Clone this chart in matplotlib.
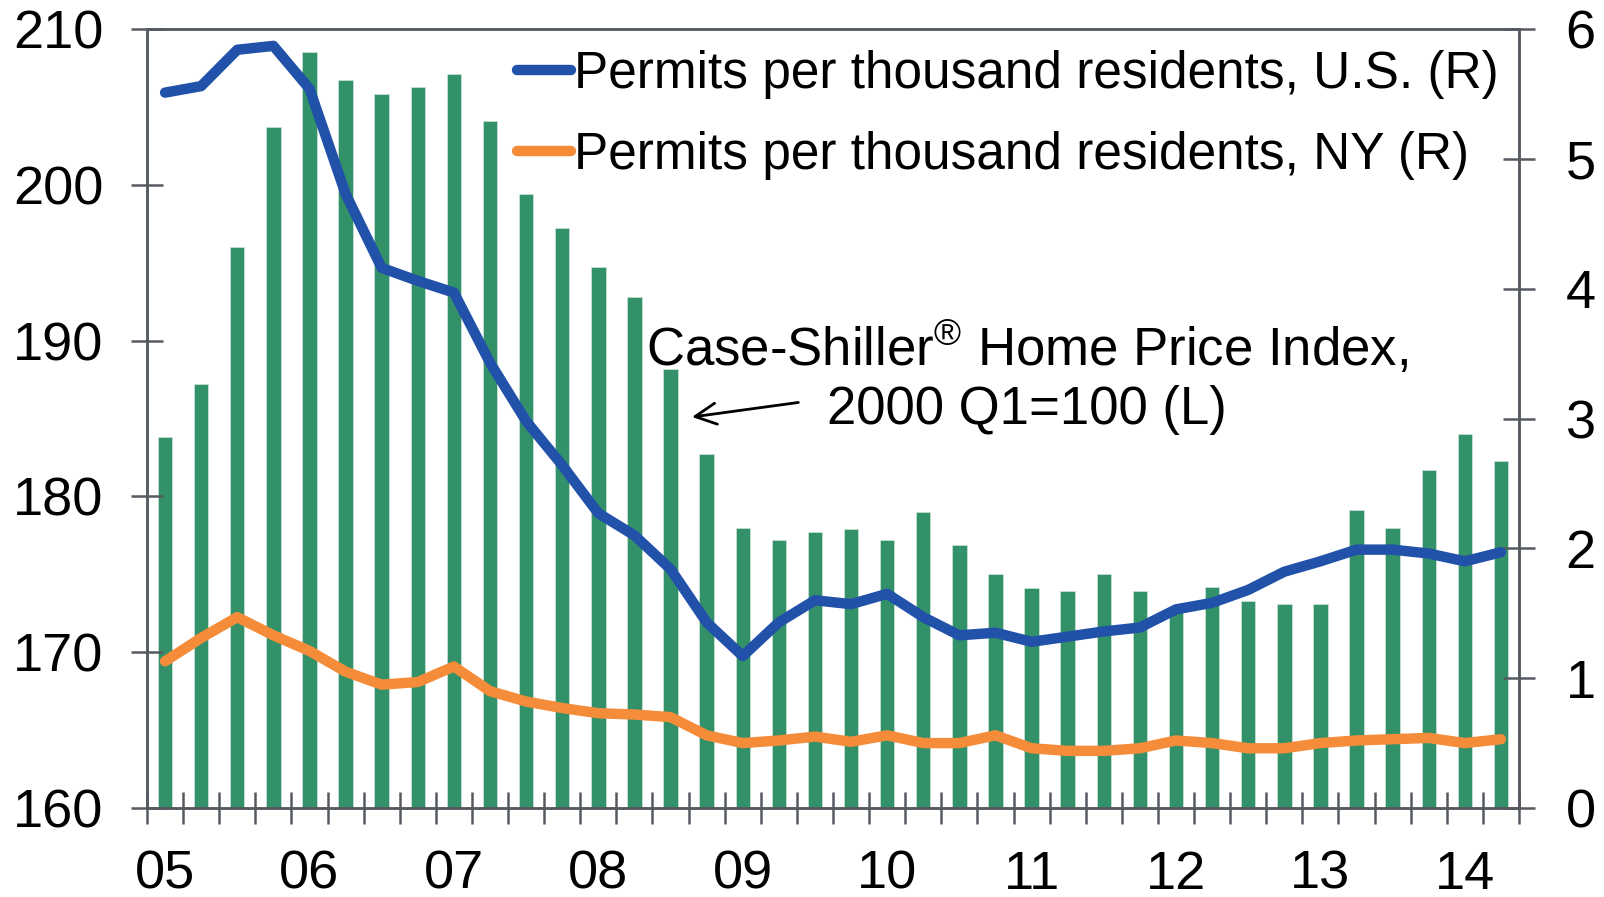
import matplotlib
matplotlib.use("Agg")
import matplotlib.pyplot as plt
import numpy as np

plt.rcParams["font.family"] = ["Liberation Sans", "DejaVu Sans"]
plt.rcParams["mathtext.fontset"] = "custom"
plt.rcParams["mathtext.rm"] = "Liberation Sans"

# quarterly, 2005 Q1 .. 2014 Q2
years = ["05", "06", "07", "08", "09", "10", "11", "12", "13", "14"]

case_shiller = [
    183.8, 187.2, 196.0, 203.7,
    208.5, 206.7, 205.8, 206.3,
    207.1, 204.1, 199.4, 197.2,
    194.7, 192.8, 188.2, 182.7,
    178.0, 177.2, 177.7, 177.9,
    177.2, 179.0, 176.9, 175.0,
    174.1, 173.9, 175.0, 173.9,
    172.6, 174.2, 173.3, 173.1,
    173.1, 179.1, 178.0, 181.7,
    184.0, 182.3,
]

permits_us = [
    5.51, 5.56, 5.84, 5.87,
    5.54, 4.73, 4.16, 4.06,
    3.97, 3.43, 2.98, 2.64,
    2.27, 2.10, 1.84, 1.43,
    1.17, 1.43, 1.60, 1.57,
    1.65, 1.47, 1.33, 1.35,
    1.28, 1.32, 1.36, 1.39,
    1.53, 1.58, 1.68, 1.82,
    1.90, 1.99, 1.99, 1.96,
    1.90, 1.97,
]

permits_ny = [
    1.13, 1.31, 1.47, 1.33,
    1.21, 1.05, 0.95, 0.97,
    1.09, 0.90, 0.82, 0.77,
    0.73, 0.72, 0.70, 0.56,
    0.50, 0.52, 0.55, 0.51,
    0.56, 0.50, 0.50, 0.56,
    0.46, 0.44, 0.44, 0.46,
    0.52, 0.50, 0.46, 0.46,
    0.50, 0.52, 0.53, 0.54,
    0.50, 0.53,
]

green = "#33916a"
blue = "#2151a8"
orange = "#f58c3a"
axis_col = "#555a60"

x = np.arange(len(case_shiller))

fig = plt.figure(figsize=(16.04, 8.97), dpi=100)
ax = fig.add_axes([147 / 1604, 1 - 808 / 897, (1519 - 147) / 1604, (808 - 29) / 897])
ax2 = ax.twinx()

ax.bar(x, case_shiller, width=0.4, color=green, edgecolor="#cfe3d8", linewidth=0.5)
ax.set_ylim(160, 210)
ax.set_yticks(range(160, 211, 10))
ax.set_xlim(-0.5, len(x) - 0.5)

# quarter boundary ticks, year labels under Q1 bars
ax.set_xticks(np.arange(-0.5, len(x) + 0.5, 1))
ax.set_xticklabels([])
ax.set_xticks(np.arange(0, len(x), 4), minor=True)
ax.set_xticklabels(years, minor=True)

l1, = ax2.plot(x, permits_us, color=blue, lw=7.5, solid_capstyle="round",
               solid_joinstyle="round", label="Permits per thousand residents, U.S. (R)")
l2, = ax2.plot(x, permits_ny, color=orange, lw=7.5, solid_capstyle="round",
               solid_joinstyle="round", label="Permits per thousand residents, NY (R)")
ax2.set_ylim(0, 6)
ax2.set_yticks(range(0, 7))

for a in (ax, ax2):
    for s in a.spines.values():
        s.set_color(axis_col)
        s.set_linewidth(1.8)
    a.tick_params(axis="both", which="major", direction="inout", length=23,
                  width=1.8, color=axis_col, labelsize=39, pad=22)

ax.tick_params(axis="x", which="major", labelbottom=False)
ax.tick_params(axis="x", which="minor", length=0, labelsize=39, pad=30)
ax.tick_params(axis="y", pad=20)
ax2.tick_params(axis="y", pad=22)

leg = ax2.legend(handles=[l1, l2], loc="upper left", frameon=False, fontsize=37,
                 bbox_to_anchor=(517 / 1604, 1 - 50 / 897), bbox_transform=fig.transFigure,
                 handlelength=1.05, handletextpad=0.05, labelspacing=0.62,
                 borderpad=0, borderaxespad=0)

ax.annotate("Case-Shiller$^{\\mathrm{®}}$ Home Price Index,\n2000 Q1=100 (L)",
            xy=(692 / 1604, 1 - 417 / 897), xycoords="figure fraction",
            xytext=(1027 / 1604, 1 - 377 / 897), textcoords="figure fraction",
            ha="center", va="center", multialignment="center", fontsize=38,
            linespacing=1.2,
            arrowprops=dict(arrowstyle="->", color="black", lw=2,
                            mutation_scale=38, shrinkA=0, shrinkB=0,
                            relpos=(0.2, 0.28)))

fig.savefig("out.png", dpi=100)
